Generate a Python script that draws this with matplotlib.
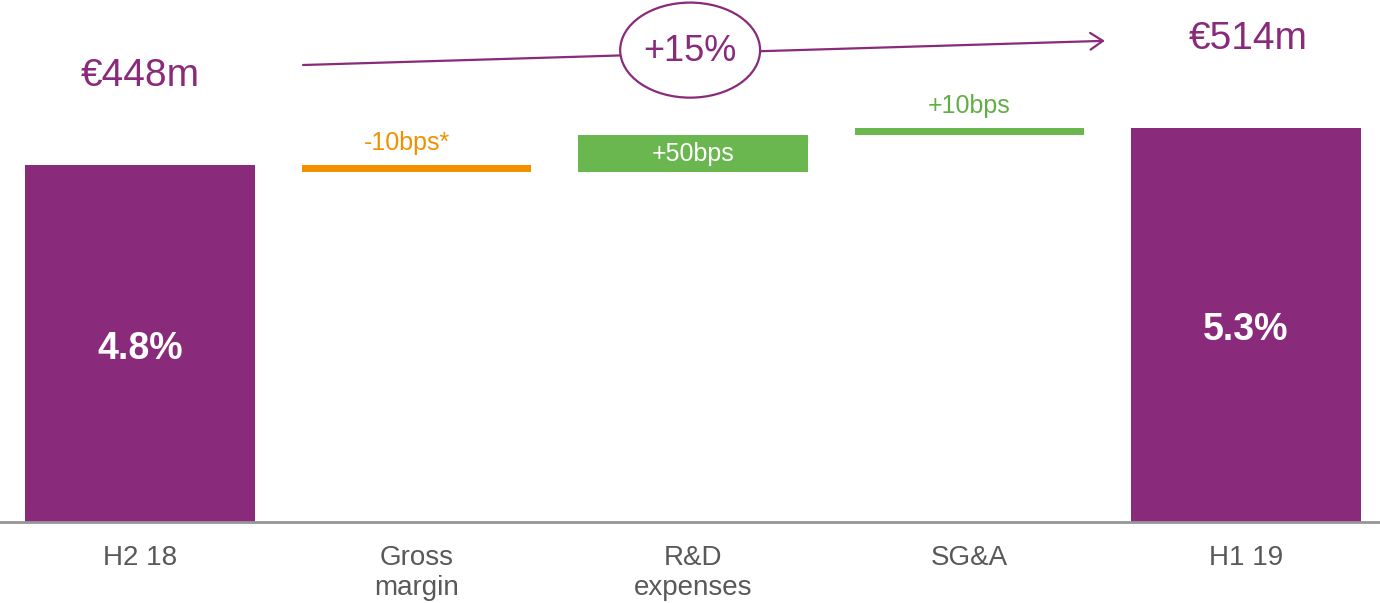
"""Operating margin bridge, H2 18 to H1 19."""

import numpy as np
import matplotlib

matplotlib.use("Agg")
import matplotlib.pyplot as plt
from matplotlib.patches import Ellipse

plt.rcParams["font.family"] = ["Liberation Sans", "DejaVu Sans"]

# ---------- Data ---------- #
categories = ["H2 18", "Gross\nmargin", "R&D\nexpenses", "SG&A", "H1 19"]
start_margin = 4.8
change_bps = [-10, 50, 10]
end_margin = 5.3
change_labels = ["-10bps*", "+50bps", "+10bps"]
revenue_labels = ["€448m", "€514m"]
growth_label = "+15%"

# ---------- Colours ---------- #
purple = "#892A7A"
orange = "#F29100"
green = "#6AB64F"
green_text = "#62AD45"
grey_text = "#595959"

# ---------- Bar geometry ---------- #
changes = np.array(change_bps) / 100.0
levels = start_margin + np.cumsum(changes)
prev = np.concatenate([[start_margin], levels[:-1]])
step_bottoms = np.minimum(prev, levels)
step_heights = np.abs(changes)
step_colors = [orange if c < 0 else green for c in changes]

x = np.arange(len(categories))
width = 0.83

fig = plt.figure(figsize=(13.8, 6.03), dpi=100)
ax = fig.add_axes([0, 81 / 603, 1, 521 / 603])

ax.bar([x[0], x[-1]], [start_margin, end_margin], width=width, color=purple, zorder=2)
ax.bar(x[1:-1], step_heights, bottom=step_bottoms, width=width, color=step_colors, zorder=2)

# totals inside the end bars
for xi, val in zip([x[0], x[-1]], [start_margin, end_margin]):
    ax.text(xi, val / 2 - 0.07, f"{val:.1f}%", ha="center", va="center",
            color="white", fontsize=27, fontweight="bold", zorder=3)

# step labels: above thin bars, inside the wide one
for xi, b, h, c, lab in zip(x[1:-1], step_bottoms, step_heights, changes, change_labels):
    if h >= 0.3:
        ax.text(xi, b + h / 2, lab, ha="center", va="center",
                color="white", fontsize=18, zorder=3)
    else:
        tcol = orange if c < 0 else green_text
        dx = -7 if lab.endswith("*") else 0
        ax.annotate(lab, (xi, b + h), xytext=(dx, 7), textcoords="offset points",
                    ha="center", va="bottom", color=tcol, fontsize=18)

# revenue labels and growth arrow
ax.text(x[0], 5.99, revenue_labels[0], ha="center", va="center", color=purple, fontsize=28)
ax.text(x[-1] + 0.01, 6.49, revenue_labels[1], ha="center", va="center", color=purple, fontsize=28)

ax.annotate("", xy=(3.49, 6.465), xytext=(0.59, 6.14),
            arrowprops=dict(arrowstyle="->, head_length=0.45, head_width=0.3",
                            mutation_scale=20, color=purple, lw=1.6,
                            shrinkA=0, shrinkB=0))
ax.add_patch(Ellipse((1.99, 6.34), 0.506, 1.277, facecolor="white",
                     edgecolor=purple, lw=1.6, zorder=3))
ax.text(1.99, 6.32, growth_label, ha="center", va="center", color=purple,
        fontsize=26, zorder=4)

# ---------- Axes styling ---------- #
ax.set_xlim(-0.506, 4.485)
ax.set_ylim(0, 7)
for side in ["top", "right", "left"]:
    ax.spines[side].set_visible(False)
ax.spines["bottom"].set_color("#969696")
ax.spines["bottom"].set_linewidth(2)
ax.set_yticks([])
ax.set_xticks(x)
ax.set_xticklabels(categories, fontsize=20, color=grey_text, linespacing=1.22)
ax.tick_params(axis="x", length=0, pad=16.5)

fig.savefig("out.png", dpi=100)
